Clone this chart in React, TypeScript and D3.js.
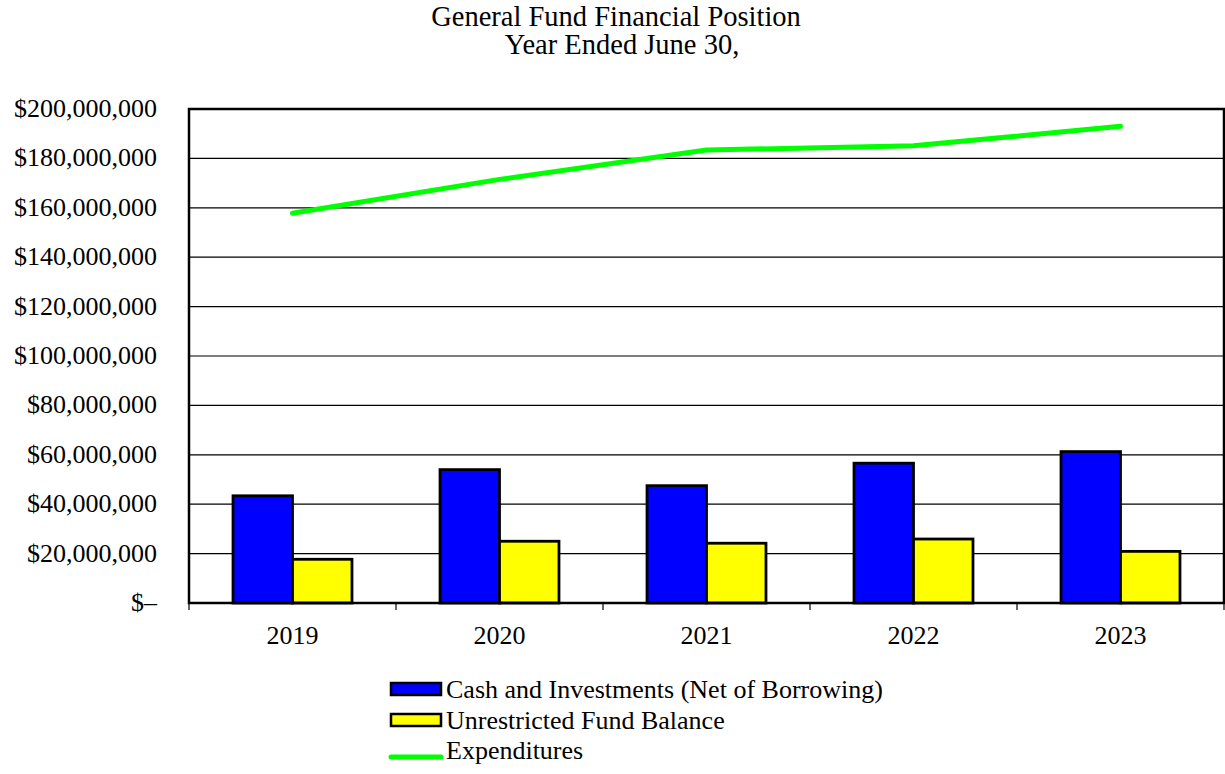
import React, { useEffect } from 'react';
import * as d3 from 'd3';

const years = ['2019', '2020', '2021', '2022', '2023'];
const cashInvestments = [43.4, 54.0, 47.5, 56.6, 61.3];
const unrestrictedBalance = [17.7, 25.0, 24.2, 25.9, 20.9];
const expenditures = [157.8, 171.5, 183.4, 185.1, 193.0];
const yTicks = [0, 20, 40, 60, 80, 100, 120, 140, 160, 180, 200];
const seriesNames = ['Cash and Investments (Net of Borrowing)', 'Unrestricted Fund Balance', 'Expenditures'];

const width = 1225;
const height = 774;
const left = 189, right = 1224, top = 109, bottom = 603;
const txt = { fontFamily: 'Liberation Serif', fontSize: 26 };

export default function App() {
    useEffect(() => {
        document.body.style.margin = '0';
    }, []);

    const x0 = d3.scaleBand<string>().domain(years).range([left, right]).padding(0);
    const x1 = d3.scaleBand<string>()
        .domain(['cash', 'unres'])
        .range([0, x0.bandwidth()])
        .paddingInner(0)
        .paddingOuter(0.74);
    const y = d3.scaleLinear().domain([0, 200]).range([bottom, top]);
    const fmt = d3.format(',');

    const line = d3.line<number>()
        .x((d, i) => x0(years[i])! + x0.bandwidth() / 2)
        .y(d => y(d));

    const bounds = years.map(yr => x0(yr)!).concat([right]);
    const rowY = [689, 720, 750];

    return (
        <svg width={width} height={height} style={{ display: 'block' }}>
            <text x={616} y={26} textAnchor="middle" style={{ ...txt, fontSize: 28.5 }}>General Fund Financial Position</text>
            <text x={622} y={54} textAnchor="middle" style={{ ...txt, fontSize: 28.5 }}>Year Ended June 30,</text>

            {yTicks.filter(d => d > 0).map(d => (
                <line key={'g' + d} x1={left} x2={right} y1={y(d)} y2={y(d)} stroke="#000" strokeWidth={1.2} />
            ))}
            {yTicks.map(d => (
                <text key={'t' + d} x={157} y={y(d) + 8} textAnchor="end" style={txt}>
                    {d === 0 ? '$\u2013' : '$' + fmt(d * 1000000)}
                </text>
            ))}

            {years.map((yr, i) => (
                <g key={yr}>
                    <rect x={x0(yr)! + x1('cash')!} y={y(cashInvestments[i])}
                        width={x1.bandwidth()} height={y(0) - y(cashInvestments[i])}
                        fill="#0000FF" stroke="#000" strokeWidth={2.8} />
                    <rect x={x0(yr)! + x1('unres')!} y={y(unrestrictedBalance[i])}
                        width={x1.bandwidth()} height={y(0) - y(unrestrictedBalance[i])}
                        fill="#FFFF00" stroke="#000" strokeWidth={2.8} />
                </g>
            ))}

            <path d={line(expenditures)!} fill="none" stroke="#00FF00" strokeWidth={5}
                strokeLinecap="round" strokeLinejoin="round" />

            <rect x={left} y={top} width={right - left} height={bottom - top}
                fill="none" stroke="#000" strokeWidth={2.5} />

            {bounds.map(b => (
                <line key={'xt' + b} x1={b} x2={b} y1={bottom} y2={bottom + 7} stroke="#000" strokeWidth={1.2} />
            ))}
            {years.map(yr => (
                <text key={'xl' + yr} x={x0(yr)! + x0.bandwidth() / 2} y={644} textAnchor="middle" style={txt}>{yr}</text>
            ))}

            <rect x={391} y={rowY[0] - 6} width={50} height={12} fill="#0000FF" stroke="#000" strokeWidth={2.5} />
            <rect x={391} y={rowY[1] - 6} width={50} height={12} fill="#FFFF00" stroke="#000" strokeWidth={2.5} />
            <line x1={391} x2={441} y1={rowY[2] + 7} y2={rowY[2] + 7} stroke="#00FF00" strokeWidth={5} strokeLinecap="round" />
            {seriesNames.map((s, i) => (
                <text key={s} x={446} y={rowY[i] + 9} style={txt}>{s}</text>
            ))}
        </svg>
    );
}
